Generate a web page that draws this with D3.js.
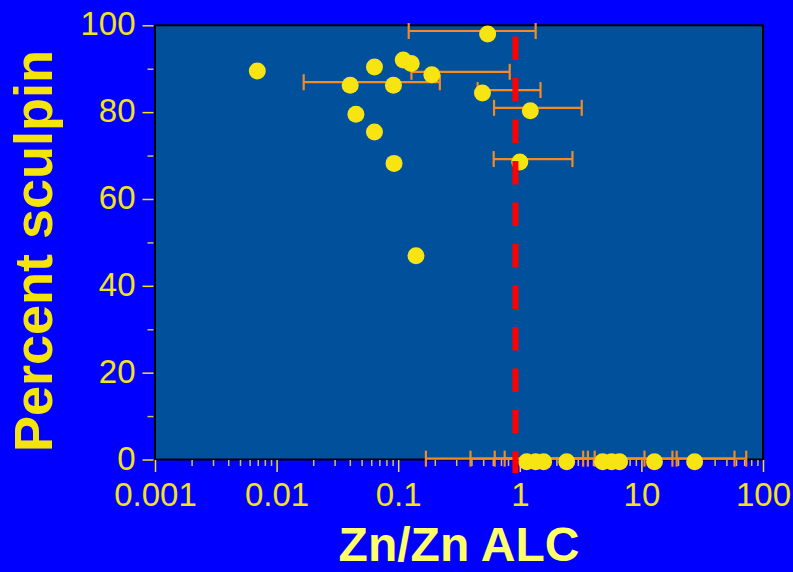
<!DOCTYPE html>
<html>
<head>
<meta charset="utf-8">
<script src="https://cdn.jsdelivr.net/npm/d3@7"></script>
<style>
  body { margin: 0; background: #0000ff; }
  svg { display: block; }
</style>
</head>
<body>
<div id="chart"></div>
<script>
// points: Zn/Zn ALC ratio (x) vs percent sculpin (y)
const ratioZn = [0.544, 0.00694, 0.0638, 0.110, 0.128, 0.189, 0.0403, 0.0914, 0.493, 1.22, 1.0,
  0.0449, 0.0638, 0.0924, 0.140,
  1.14, 1.35, 1.57, 2.43, 4.80, 5.69, 6.62, 12.8, 27.4];
const pctSculpin = [98.0, 89.5, 90.4, 92.0, 91.2, 88.6, 86.2, 86.2, 84.4, 80.3, 68.5,
  79.5, 75.4, 68.2, 46.9,
  -0.5, -0.5, -0.5, -0.5, -0.5, -0.5, -0.5, -0.5, -0.5];
// horizontal error bars (null = no bar)
const errLow = [0.122, null, null, null, null, 0.1285, 0.0167, null, 0.45, 0.614, 0.61,
  null, null, null, null,
  0.169, 0.393, 0.622, 0.751, null, null, 4.13, null, 19.5];
const errHigh = [1.35, null, null, null, null, 0.826, 0.22, null, 1.48, 3.23, 2.71,
  null, null, null, null,
  3.32, 3.63, 10.6, 18.0, null, null, 58.3, null, 72.8];

const alcLine = 0.92;          // dashed reference line
const alcLineSpan = [97.4, -3.1];

const xTicks = [0.001, 0.01, 0.1, 1, 10, 100];
const xTickLabels = ["0.001", "0.01", "0.1", "1", "10", "100"];
const yTicks = [0, 20, 40, 60, 80, 100];
const yMinorTicks = [10, 30, 50, 70, 90];

const data = ratioZn.map((x, i) => ({x: x, y: pctSculpin[i], lo: errLow[i], hi: errHigh[i]}));

const W = 793, H = 572;
const pLeft = 155, pRight = 763, pTop = 25.3, pBottom = 459.5;

const svg = d3.select("#chart").append("svg")
  .attr("width", W).attr("height", H);

svg.append("rect").attr("width", W).attr("height", H).attr("fill", "#0000ff");

const x = d3.scaleLog().domain([0.001, 100]).range([pLeft, pRight]);
const y = d3.scaleLinear().domain([0, 100]).range([pBottom, pTop]);

// plot area
svg.append("rect")
  .attr("x", pLeft).attr("y", pTop)
  .attr("width", pRight - pLeft).attr("height", pBottom - pTop)
  .attr("fill", "#00509b")
  .attr("stroke", "#000").attr("stroke-width", 2);

const yellow = "#f2e31c";

// minor x ticks 2..9 in each decade
const xMinor = [];
[0.001, 0.01, 0.1, 1, 10].forEach(d => { for (let k = 2; k <= 9; k++) xMinor.push(d * k); });

const xMinorAxis = svg.append("g")
  .attr("transform", `translate(0,${pBottom + 0.5})`)
  .call(d3.axisBottom(x).tickValues(xMinor).tickSize(6).tickFormat(""));
const xAxis = svg.append("g")
  .attr("transform", `translate(0,${pBottom + 0.5})`)
  .call(d3.axisBottom(x).tickValues(xTicks).tickSize(12).tickPadding(11)
    .tickFormat((d, i) => xTickLabels[i]));

const yMinorAxis = svg.append("g")
  .attr("transform", `translate(${pLeft - 1.5},0)`)
  .call(d3.axisLeft(y).tickValues(yMinorTicks).tickSize(6).tickFormat(""));
const yAxis = svg.append("g")
  .attr("transform", `translate(${pLeft - 1.5},0)`)
  .call(d3.axisLeft(y).tickValues(yTicks).tickSize(11).tickPadding(7));

[xMinorAxis, xAxis, yMinorAxis, yAxis].forEach(g => g.select(".domain").remove());
[xAxis, yAxis].forEach(g => {
  g.selectAll("line").attr("stroke", yellow).attr("stroke-width", 1.5);
  g.selectAll("text")
    .attr("fill", yellow)
    .style("font-family", "'Liberation Sans', Arial, sans-serif")
    .style("font-size", "33px");
});
[xMinorAxis, yMinorAxis].forEach(g => g.selectAll("line").attr("stroke", "#cfc451").attr("stroke-width", 1.5));
yAxis.selectAll("text").attr("dy", "0.29em");

// error bars (drawn a bit above the point centres as in the original)
const errOff = 3;
const orange = "#f38b22";
const bars = svg.append("g").selectAll("g")
  .data(data.filter(d => d.lo != null))
  .join("g")
  .attr("stroke", orange).attr("stroke-width", 2.2);
bars.append("line")
  .attr("x1", d => x(d.lo)).attr("x2", d => x(d.hi))
  .attr("y1", d => y(d.y) - errOff).attr("y2", d => y(d.y) - errOff);
bars.append("line")
  .attr("x1", d => x(d.lo)).attr("x2", d => x(d.lo))
  .attr("y1", d => y(d.y) - errOff - 8).attr("y2", d => y(d.y) - errOff + 8);
bars.append("line")
  .attr("x1", d => x(d.hi)).attr("x2", d => x(d.hi))
  .attr("y1", d => y(d.y) - errOff - 8).attr("y2", d => y(d.y) - errOff + 8);

// points
svg.append("g").selectAll("circle")
  .data(data)
  .join("circle")
  .attr("cx", d => x(d.x))
  .attr("cy", d => y(d.y))
  .attr("r", 8.5)
  .attr("fill", "#f7e412");

// red dashed reference line
svg.append("line")
  .attr("x1", x(alcLine)).attr("x2", x(alcLine))
  .attr("y1", y(alcLineSpan[0])).attr("y2", y(alcLineSpan[1]))
  .attr("stroke", "#ff0000").attr("stroke-width", 6)
  .attr("stroke-dasharray", "23.5,18");

// axis titles
svg.append("text")
  .attr("x", (pLeft + pRight) / 2).attr("y", 561)
  .attr("text-anchor", "middle")
  .attr("fill", "#ffff6a")
  .style("font-family", "'Liberation Sans', Arial, sans-serif")
  .style("font-weight", "bold")
  .style("font-size", "48px")
  .text("Zn/Zn ALC");

svg.append("text")
  .attr("transform", "translate(52,251) rotate(-90)")
  .attr("text-anchor", "middle")
  .attr("fill", "#f5e40c")
  .style("font-family", "'Liberation Sans', Arial, sans-serif")
  .style("font-weight", "bold")
  .style("font-size", "54px")
  .text("Percent sculpin");
</script>
</body>
</html>
